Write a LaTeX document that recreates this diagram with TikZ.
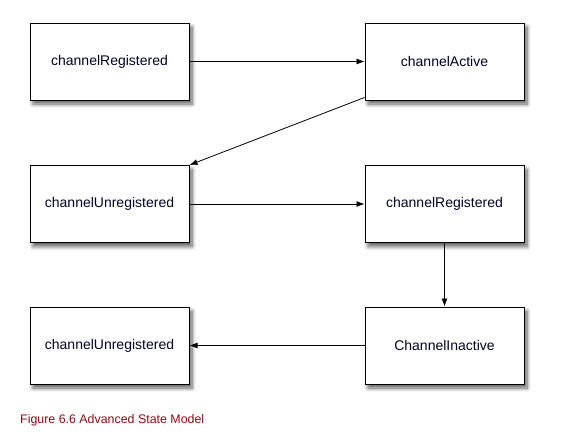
\documentclass[tikz,border=0pt]{standalone}
\usepackage{fontspec}
\setmainfont{Liberation Sans}
\usetikzlibrary{arrows.meta,shadows.blur}
\definecolor{captionred}{RGB}{140,10,20}
\tikzset{
	statebox/.style={rectangle, draw=black, line width=1pt, fill=white, minimum width=159pt, minimum height=77pt, inner sep=2pt, font=\fontsize{14}{16}\selectfont, text=black!85!blue,
		blur shadow={shadow xshift=3pt, shadow yshift=-4pt, shadow blur steps=8, shadow blur radius=4pt, shadow opacity=65}},
	trans/.style={-{Latex[length=8pt,width=6pt]}, line width=0.8pt}
}
\begin{document}
\begin{tikzpicture}[x=1pt, y=-1pt]
			\useasboundingbox (0,0) rectangle (586,447);
			% Define the states
			\node[statebox] (reg) at (109.5, 61.5) {channelRegistered};
			\node[statebox] (act) at (444.5, 61.5) {channelActive};
			\node[statebox] (unregA) at (109.5, 204) {channelUnregistered};
			\node[statebox] (regB) at (444.5, 204) {channelRegistered};
			\node[statebox] (unregB) at (109.5, 345.5) {channelUnregistered};
			\node[statebox] (inact) at (444.5, 345.5) {ChannelInactive};

			% Draw the transitions
			\draw[trans] (reg) -- (act);
			\draw[trans] ([yshift=3pt]act.south west) -- (unregA.north east);
			\draw[trans] (unregA) -- (regB);
			\draw[trans] (regB) -- (inact);
			\draw[trans] (inact) -- (unregB);

			\node[anchor=west, text=captionred, font=\fontsize{12.4}{14}\selectfont, inner sep=0pt] (cap) at (20, 420) {Figure 6.6 Advanced State Model};
		\end{tikzpicture}
\end{document}
